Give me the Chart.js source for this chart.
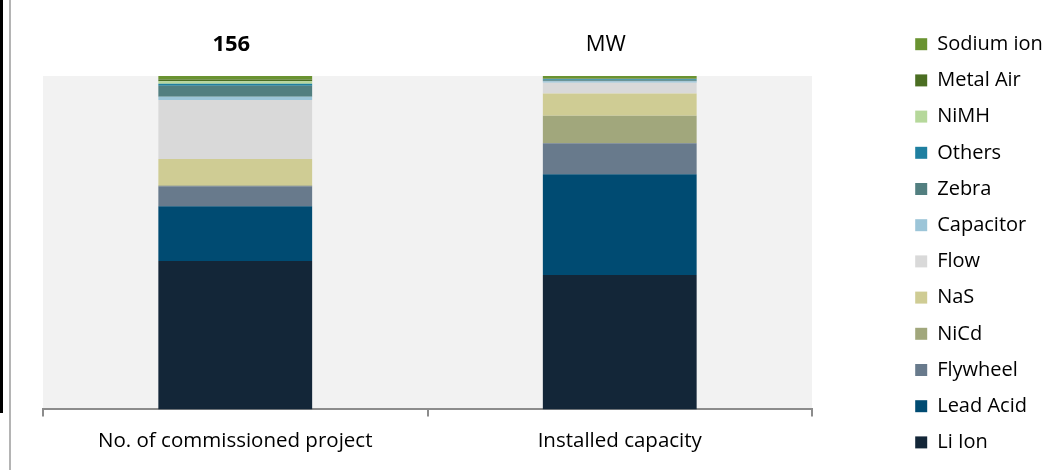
<!DOCTYPE html>
<html><head><meta charset="utf-8">
<script src="https://cdn.jsdelivr.net/npm/chart.js@4/dist/chart.umd.min.js"></script>
<style>
html,body{margin:0;padding:0;background:#fff;}
#wrap{position:relative;width:1058px;height:470px;overflow:hidden;}
#c{position:absolute;left:0;top:0;}
.lb{position:absolute;left:0;top:0;width:3px;height:413px;background:#000;}
.gl{position:absolute;left:9px;top:0;width:2px;height:470px;background:#b4b4b4;}
</style></head><body>
<div id="wrap"><canvas id="c" width="1058" height="470"></canvas><div class="lb"></div><div class="gl"></div></div>
<script>
const categories = ['No. of commissioned project', 'Installed capacity'];
const topLabels = ['156', 'MW'];
const seriesNames = ['Li Ion','Lead Acid','Flywheel','NiCd','NaS','Flow','Capacitor','Zebra','Others','NiMH','Metal Air','Sodium ion'];
const liIon     = [44.5, 40.3];
const leadAcid  = [16.4, 30.25];
const flywheel  = [6.0, 9.3];
const niCd      = [0.3, 8.2];
const naS       = [7.9, 6.7];
const flow      = [17.7, 3.2];
const capacitor = [1.0, 0.45];
const zebra     = [3.3, 0.3];
const others    = [0.6, 0.3];
const niMH      = [0.75, 0.2];
const metalAir  = [0.5, 0.2];
const sodiumIon = [1.05, 0.6];
const seriesValues = [liIon, leadAcid, flywheel, niCd, naS, flow, capacitor, zebra, others, niMH, metalAir, sodiumIon];
const seriesColors = ['#132638','#004b72','#687a8c','#a1a77c','#cfcc94','#d9d9d9','#9cc5d8','#527f80','#1f7fa0','#b6d89b','#4b6e22','#6a9331'];

const FONT = "'Open Sans', sans-serif";

const plotBg = {
  id: 'plotBg',
  beforeDraw(chart) {
    const {ctx, chartArea: a} = chart;
    ctx.save();
    ctx.fillStyle = '#f2f2f2';
    ctx.fillRect(a.left, a.top, a.right - a.left, a.bottom - a.top);
    ctx.restore();
  }
};

const topLabelShift = [-4, -14];
const topText = {
  id: 'topText',
  afterDatasetsDraw(chart) {
    const {ctx} = chart;
    const xs = chart.scales.x;
    ctx.save();
    ctx.fillStyle = '#000';
    ctx.textAlign = 'center';
    ctx.textBaseline = 'middle';
    topLabels.forEach((t, i) => {
      ctx.font = (i === 0 ? 'bold ' : '') + '22px ' + FONT;
      ctx.fillText(t, xs.getPixelForValue(i) + topLabelShift[i], 45);
    });
    ctx.restore();
  }
};

const legendPlace = {
  id: 'legendPlace',
  beforeLayout(chart) {
    const lg = chart.legend;
    if (lg && !lg.__patched) {
      const up = lg.update;
      lg.update = function (mw, mh, m) { up.call(this, mw, 470, m); this.width = 246; };
      lg.__patched = true;
    }
  },
  afterLayout(chart) {
    const lg = chart.legend;
    if (lg) { lg.left = 899; lg.right = 1058; lg.top = 18; lg.bottom = 470; }
  }
};

new Chart(document.getElementById('c'), {
  type: 'bar',
  data: {
    labels: categories,
    datasets: seriesNames.map((n, i) => ({
      label: n,
      data: seriesValues[i],
      backgroundColor: seriesColors[i],
      borderWidth: 0,
      barPercentage: 0.4,
      categoryPercentage: 1.0
    }))
  },
  options: {
    responsive: false,
    animation: false,
    devicePixelRatio: 1,
    layout: { padding: { left: 43, top: 76, right: 0, bottom: 5 } },
    scales: {
      x: {
        stacked: true,
        grid: { display: true, drawOnChartArea: false, drawTicks: true, tickLength: 7, color: '#8c8c8c', lineWidth: 2, offset: true },
        border: { display: true, color: '#8c8c8c', width: 2 },
        ticks: { color: '#000', font: { family: FONT, size: 20.5 }, padding: 12 }
      },
      y: { stacked: true, min: 0, max: 100, display: false }
    },
    plugins: {
      tooltip: { enabled: false },
      legend: {
        position: 'right',
        align: 'start',
        reverse: true,
        labels: { boxWidth: 12, boxHeight: 12, padding: 16.2, color: '#000', font: { family: FONT, size: 20 } }
      }
    }
  },
  plugins: [plotBg, topText, legendPlace]
});
</script>
</body></html>
